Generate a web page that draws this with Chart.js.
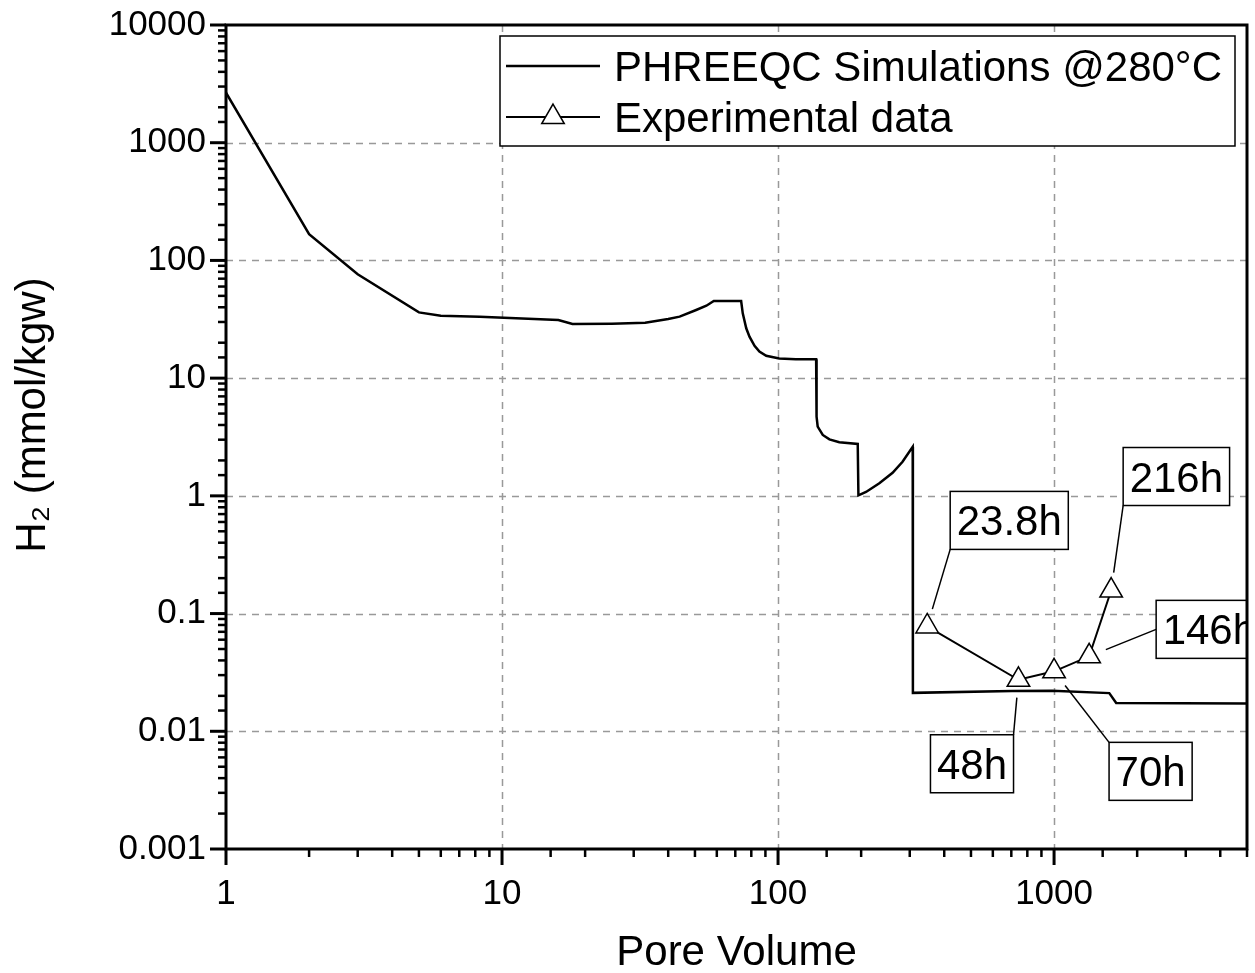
<!DOCTYPE html>
<html>
<head>
<meta charset="utf-8">
<script src="https://cdn.jsdelivr.net/npm/chart.js@4/dist/chart.umd.min.js"></script>
<style>
  body { margin: 0; background: #fff; }
  canvas { display: block; }
</style>
</head>
<body>
<canvas id="graph" width="1255" height="973"></canvas>
<script>
// PHREEQC simulation (pore volume vs H2)
const simX = [1, 2, 3, 5, 6, 8.3, 16, 18, 25, 33, 40, 44, 50.5, 55, 58.5, 73.5, 74.5, 76.7, 78.8, 82.2, 85.6, 90.6, 101, 116, 137.4,
  137.9, 139.2, 145.2, 153.5, 166.7, 194.4, 195.5, 208.3, 232.8, 260, 282.5, 307.5, 308, 705, 984, 1585, 1679, 5000];
const simY = [2660, 167, 76.2, 36.2, 33.9, 33.3, 31.2, 28.8, 29.0, 29.5, 31.8, 33.3, 37.9, 41.2, 45.2, 45.2, 35.5, 26.5, 22.5, 18.8, 16.8, 15.5, 14.7, 14.5, 14.5,
  4.7, 3.87, 3.29, 3.02, 2.85, 2.76, 1.01, 1.08, 1.28, 1.57, 1.95, 2.61, 0.0212, 0.022, 0.0221, 0.0211, 0.0174, 0.0172];

// experimental data
const expX = [347, 743, 1000, 1340, 1610];
const expY = [0.0778, 0.0274, 0.0323, 0.0433, 0.157];
const expLabels = ['23.8h', '48h', '70h', '146h', '216h'];

const xTickLabels = ['1', '10', '100', '1000'];
const yTickLabels = ['0.001', '0.01', '0.1', '1', '10', '100', '1000', '10000'];
const xTitle = 'Pore Volume';
const yTitle = 'H₂ (mmol/kgw)';

// box offsets from the point (top-left of box) and which corner the leader starts from
const labelOffsets = [
  { dx: 23, dy: -135, corner: 'bl' },
  { dx: -88, dy: 55, corner: 'tr' },
  { dx: 55, dy: 71, corner: 'tl' },
  { dx: 67, dy: -56, corner: 'lm' },
  { dx: 12, dy: -143, corner: 'bl' }
];

const FONT = '"Liberation Sans", Arial, sans-serif';

function isDecade(v) {
  const l = Math.log10(v);
  return Math.abs(l - Math.round(l)) < 1e-6;
}

const framePlugin = {
  id: 'frame',
  beforeDatasetsDraw(chart) {
    const { ctx, chartArea: a, scales } = chart;
    ctx.save();
    ctx.strokeStyle = '#999';
    ctx.lineWidth = 1.5;
    ctx.setLineDash([7, 6]);
    scales.x.ticks.forEach(t => {
      if (!isDecade(t.value)) return;
      const px = Math.round(scales.x.getPixelForValue(t.value)) + 0.5;
      if (px < a.left + 3 || px > a.right - 3) return;
      ctx.beginPath(); ctx.moveTo(px, a.top); ctx.lineTo(px, a.bottom); ctx.stroke();
    });
    scales.y.ticks.forEach(t => {
      if (!isDecade(t.value)) return;
      const py = Math.round(scales.y.getPixelForValue(t.value)) + 0.5;
      if (py < a.top + 3 || py > a.bottom - 3) return;
      ctx.beginPath(); ctx.moveTo(a.left, py); ctx.lineTo(a.right, py); ctx.stroke();
    });
    ctx.restore();
  },
  afterDatasetsDraw(chart) {
    const { ctx, chartArea: a, scales } = chart;
    ctx.save();

    // annotations
    ctx.beginPath();
    ctx.rect(a.left, a.top, a.right - a.left, a.bottom - a.top);
    ctx.clip();
    const meta = chart.getDatasetMeta(0);
    ctx.font = '42px ' + FONT;
    meta.data.forEach((pt, i) => {
      const o = labelOffsets[i];
      const w = ctx.measureText(expLabels[i]).width + 13;
      const h = 58;
      const bx = pt.x + o.dx, by = pt.y + o.dy;
      let sx = bx, sy = by;
      if (o.corner === 'bl') { sx = bx; sy = by + h; }
      if (o.corner === 'tr') { sx = bx + w; sy = by; }
      if (o.corner === 'tl') { sx = bx; sy = by; }
      if (o.corner === 'lm') { sx = bx; sy = by + h / 2; }
      const dxl = pt.x - sx, dyl = pt.y - sy;
      const d = Math.hypot(dxl, dyl);
      const ex = pt.x - dxl / d * 18, ey = pt.y - dyl / d * 18;
      ctx.strokeStyle = '#000';
      ctx.lineWidth = 1.5;
      ctx.setLineDash([]);
      ctx.beginPath(); ctx.moveTo(sx, sy); ctx.lineTo(ex, ey); ctx.stroke();
      ctx.fillStyle = '#fff';
      ctx.fillRect(bx, by, w, h);
      ctx.strokeRect(bx, by, w, h);
      ctx.fillStyle = '#000';
      ctx.textAlign = 'center';
      ctx.textBaseline = 'alphabetic';
      ctx.fillText(expLabels[i], bx + w / 2, by + 44);
    });
    ctx.restore();

    // legend
    ctx.save();
    const lx = 500, ly = 36, lw = 735, lh = 110;
    ctx.fillStyle = '#fff';
    ctx.fillRect(lx, ly, lw, lh);
    ctx.strokeStyle = '#000';
    ctx.lineWidth = 1.5;
    ctx.strokeRect(lx, ly, lw, lh);
    ctx.lineWidth = 2.5;
    ctx.beginPath(); ctx.moveTo(506, 66); ctx.lineTo(600, 66); ctx.stroke();
    ctx.lineWidth = 2;
    ctx.beginPath(); ctx.moveTo(506, 117); ctx.lineTo(600, 117); ctx.stroke();
    const r = 13, cx = 553, cy = 117;
    ctx.beginPath();
    ctx.moveTo(cx, cy - r);
    ctx.lineTo(cx + r * Math.sin(2 * Math.PI / 3), cy + r / 2);
    ctx.lineTo(cx - r * Math.sin(2 * Math.PI / 3), cy + r / 2);
    ctx.closePath();
    ctx.fillStyle = '#fff';
    ctx.fill();
    ctx.lineWidth = 1.5;
    ctx.stroke();
    ctx.fillStyle = '#000';
    ctx.font = '42px ' + FONT;
    ctx.textAlign = 'left';
    ctx.textBaseline = 'alphabetic';
    ctx.fillText(chart.data.datasets[1].label, 614, 81);
    ctx.fillText(chart.data.datasets[0].label, 614, 132);
    ctx.restore();

    // axes box and ticks
    ctx.save();
    ctx.strokeStyle = '#000';
    ctx.lineWidth = 3;
    ctx.strokeRect(a.left, a.top, a.right - a.left, a.bottom - a.top);
    scales.x.ticks.forEach(t => {
      const px = scales.x.getPixelForValue(t.value);
      const major = isDecade(t.value);
      ctx.lineWidth = major ? 3 : 2.5;
      ctx.beginPath(); ctx.moveTo(px, a.bottom); ctx.lineTo(px, a.bottom + (major ? 16 : 8)); ctx.stroke();
    });
    scales.y.ticks.forEach(t => {
      const py = scales.y.getPixelForValue(t.value);
      const major = isDecade(t.value);
      ctx.lineWidth = major ? 3 : 2.5;
      ctx.beginPath(); ctx.moveTo(a.left, py); ctx.lineTo(a.left - (major ? 16 : 8), py); ctx.stroke();
    });

    // axis titles
    ctx.fillStyle = '#000';
    ctx.font = '42px ' + FONT;
    ctx.textAlign = 'center';
    ctx.textBaseline = 'middle';
    ctx.fillText(xTitle, (a.left + a.right) / 2, 953);
    ctx.translate(33, 415);
    ctx.rotate(-Math.PI / 2);
    ctx.fillText(yTitle, 0, 0);
    ctx.restore();
  }
};

const simData = simX.map((x, i) => ({ x: x, y: simY[i] }));
const expData = expX.map((x, i) => ({ x: x, y: expY[i] }));

const graph = document.querySelector('#graph');

function noPad(s) {
  s.paddingTop = 0; s.paddingBottom = 0; s.paddingLeft = 0; s.paddingRight = 0;
}

new Chart(graph, {
  type: 'scatter',
  data: {
    datasets: [
      {
        label: 'Experimental data',
        data: expData,
        showLine: true,
        borderColor: '#000',
        borderWidth: 2,
        pointStyle: 'triangle',
        pointRadius: 13,
        pointBackgroundColor: '#fff',
        pointBorderColor: '#000',
        pointBorderWidth: 1.5,
        order: 0
      },
      {
        label: 'PHREEQC Simulations @280°C',
        data: simData,
        showLine: true,
        borderColor: '#000',
        borderWidth: 2.5,
        pointRadius: 0,
        order: 1
      }
    ]
  },
  options: {
    responsive: false,
    animation: false,
    layout: { autoPadding: false, padding: { top: 25, right: 8, left: 0, bottom: 0 } },
    plugins: { legend: { display: false }, tooltip: { enabled: false } },
    scales: {
      x: {
        type: 'logarithmic',
        min: 1,
        max: 5000,
        grid: { display: false, drawTicks: false },
        border: { display: false },
        ticks: {
          autoSkip: false,
          maxRotation: 0,
          padding: 24,
          color: '#000',
          font: { family: FONT, size: 35 },
          callback: v => isDecade(v) ? xTickLabels[Math.round(Math.log10(v))] : ''
        },
        afterFit: s => { s.height = 124; noPad(s); }
      },
      y: {
        type: 'logarithmic',
        min: 0.001,
        max: 10000,
        grid: { display: false, drawTicks: false },
        border: { display: false },
        ticks: {
          autoSkip: false,
          padding: 20,
          color: '#000',
          font: { family: FONT, size: 35 },
          callback: v => isDecade(v) ? yTickLabels[Math.round(Math.log10(v)) + 3] : ''
        },
        afterFit: s => { s.width = 226; noPad(s); }
      }
    }
  },
  plugins: [framePlugin]
});
</script>
</body>
</html>
